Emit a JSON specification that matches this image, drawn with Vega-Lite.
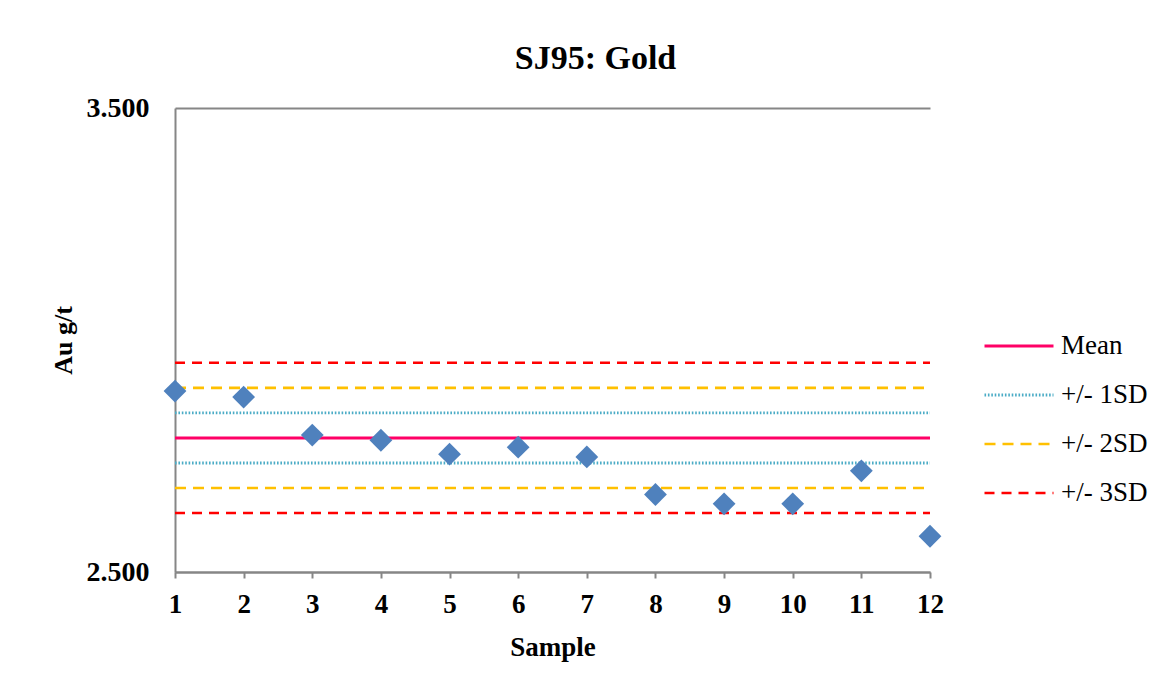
{
  "$schema": "https://vega.github.io/schema/vega-lite/v6.json",
  "autosize": {"type": "none"},
  "width": 755,
  "height": 464,
  "padding": {"left": 175, "top": 108, "right": 238, "bottom": 117},
  "background": "white",
  "title": {
    "text": "SJ95: Gold",
    "font": "Liberation Serif",
    "fontSize": 34,
    "fontWeight": "bold",
    "color": "black",
    "anchor": "middle",
    "dx": 43,
    "baseline": "alphabetic",
    "offset": -9
  },
  "config": {
    "view": {"stroke": null},
    "font": "Liberation Serif"
  },
  "datasets": {
    "points": [
      {"sample": 1, "au": 2.890},
      {"sample": 2, "au": 2.877},
      {"sample": 3, "au": 2.795},
      {"sample": 4, "au": 2.784},
      {"sample": 5, "au": 2.754},
      {"sample": 6, "au": 2.769},
      {"sample": 7, "au": 2.748},
      {"sample": 8, "au": 2.667},
      {"sample": 9, "au": 2.647},
      {"sample": 10, "au": 2.647},
      {"sample": 11, "au": 2.718},
      {"sample": 12, "au": 2.577}
    ],
    "limits": [
      {"series": "Mean", "band": "mean", "sample": 1, "au": 2.789},
      {"series": "Mean", "band": "mean", "sample": 12, "au": 2.789},
      {"series": "+/- 1SD", "band": "1up", "sample": 1, "au": 2.843},
      {"series": "+/- 1SD", "band": "1up", "sample": 12, "au": 2.843},
      {"series": "+/- 1SD", "band": "1lo", "sample": 1, "au": 2.735},
      {"series": "+/- 1SD", "band": "1lo", "sample": 12, "au": 2.735},
      {"series": "+/- 2SD", "band": "2up", "sample": 1, "au": 2.897},
      {"series": "+/- 2SD", "band": "2up", "sample": 12, "au": 2.897},
      {"series": "+/- 2SD", "band": "2lo", "sample": 1, "au": 2.681},
      {"series": "+/- 2SD", "band": "2lo", "sample": 12, "au": 2.681},
      {"series": "+/- 3SD", "band": "3up", "sample": 1, "au": 2.951},
      {"series": "+/- 3SD", "band": "3up", "sample": 12, "au": 2.951},
      {"series": "+/- 3SD", "band": "3lo", "sample": 1, "au": 2.627},
      {"series": "+/- 3SD", "band": "3lo", "sample": 12, "au": 2.627}
    ]
  },
  "encoding": {
    "x": {
      "field": "sample",
      "type": "quantitative",
      "scale": {"domain": [1, 12], "nice": false, "zero": false},
      "axis": {
        "title": "Sample",
        "values": [1, 2, 3, 4, 5, 6, 7, 8, 9, 10, 11, 12],
        "format": "d",
        "grid": false,
        "domainColor": "#868686",
        "domainWidth": 2,
        "tickColor": "#868686",
        "tickWidth": 2,
        "tickSize": 6,
        "labelFont": "Liberation Serif",
        "labelFontSize": 27,
        "labelFontWeight": "bold",
        "labelColor": "black",
        "labelPadding": 13,
        "labelFlush": false,
        "titleFont": "Liberation Serif",
        "titleFontSize": 27,
        "titleFontWeight": "bold",
        "titleColor": "black",
        "titlePadding": 17
      }
    },
    "y": {
      "field": "au",
      "type": "quantitative",
      "scale": {"domain": [2.5, 3.5], "nice": false, "zero": false},
      "axis": {
        "title": "Au g/t",
        "values": [2.5, 3.5],
        "format": ".3f",
        "grid": true,
        "gridColor": "#868686",
        "gridWidth": 2,
        "ticks": false,
        "domainColor": "#868686",
        "domainWidth": 2,
        "labelFont": "Liberation Serif",
        "labelFontSize": 28,
        "labelFontWeight": "bold",
        "labelColor": "black",
        "labelPadding": 26,
        "titleFont": "Liberation Serif",
        "titleFontSize": 26,
        "titleFontWeight": "bold",
        "titleColor": "black",
        "titlePadding": 10
      }
    }
  },
  "layer": [
    {
      "data": {"name": "limits"},
      "mark": {"type": "line", "strokeCap": "butt"},
      "encoding": {
        "detail": {"field": "band"},
        "color": {
          "field": "series",
          "type": "nominal",
          "scale": {
            "domain": ["Mean", "+/- 1SD", "+/- 2SD", "+/- 3SD"],
            "range": ["#FF0066", "#4BACC6", "#FFC000", "#FF0000"]
          },
          "legend": {
            "title": null,
            "orient": "none",
            "legendX": 808,
            "legendY": 202,
            "symbolType": "stroke",
            "symbolSize": 4761,
            "symbolStrokeWidth": 2.5,
            "labelFont": "Liberation Serif",
            "labelFontSize": 27,
            "labelColor": "black",
            "labelOffset": 6,
            "rowPadding": -2
          }
        },
        "strokeDash": {
          "field": "series",
          "type": "nominal",
          "scale": {
            "domain": ["Mean", "+/- 1SD", "+/- 2SD", "+/- 3SD"],
            "range": [[1, 0], [1.6, 1.8], [11, 7], [10, 7]]
          },
          "legend": null
        },
        "strokeWidth": {
          "field": "series",
          "type": "nominal",
          "scale": {
            "domain": ["Mean", "+/- 1SD", "+/- 2SD", "+/- 3SD"],
            "range": [3, 2.5, 2.5, 2.5]
          },
          "legend": null
        }
      }
    },
    {
      "data": {"name": "points"},
      "mark": {"type": "point", "shape": "diamond", "filled": true, "size": 520, "color": "#4F81BD", "opacity": 1}
    }
  ]
}
